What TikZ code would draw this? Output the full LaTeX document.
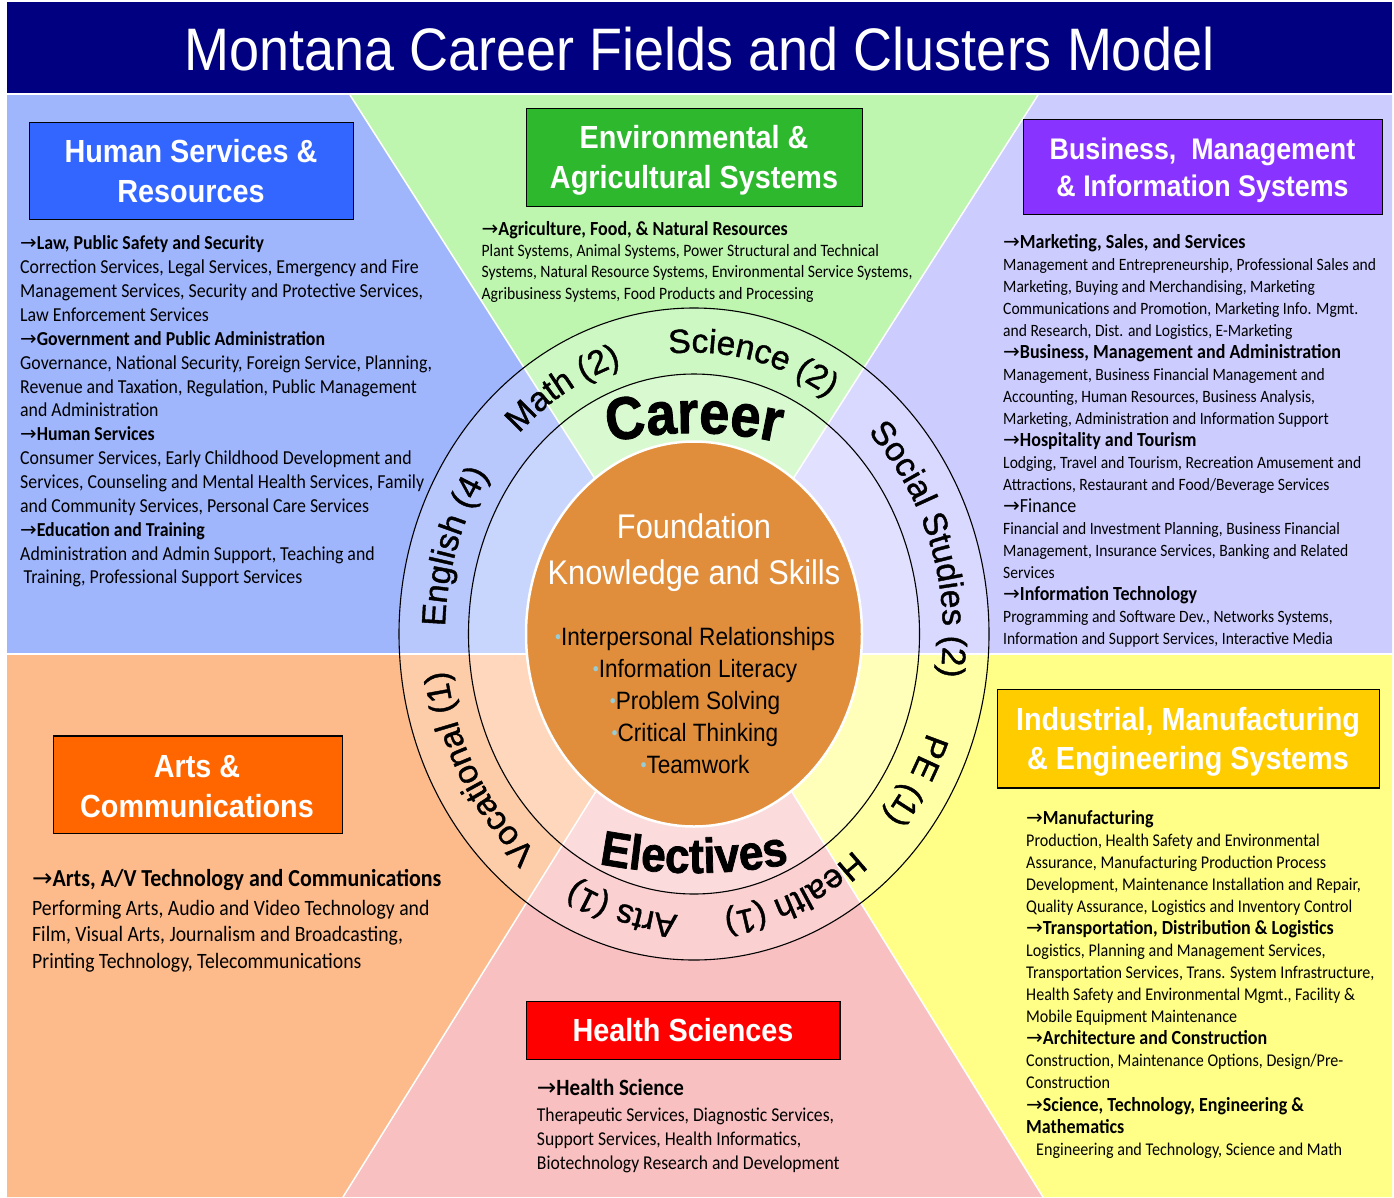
\documentclass[tikz,border=0pt]{standalone}
\usepackage{fontspec}
\setmainfont{Carlito}
\newfontfamily\bodyf{Carlito}[FakeStretch=0.9]
\newfontfamily\arialS{Liberation Sans}[FakeStretch=0.9]
\newfontfamily\arialN{Liberation Sans}[FakeBold=1.2]
\newfontfamily\heavyf{Liberation Sans}[FakeStretch=0.9,FakeBold=1.5]
\newfontfamily\arrowf{DejaVu Sans}
\usetikzlibrary{decorations.text}
\definecolor{navybar}{RGB}{0,0,128}
\definecolor{regBlue}{RGB}{160,182,252}
\definecolor{regGreen}{RGB}{190,245,175}
\definecolor{regLav}{RGB}{204,204,255}
\definecolor{regOrange}{RGB}{253,187,140}
\definecolor{regYellow}{RGB}{255,255,136}
\definecolor{regPink}{RGB}{248,192,192}
\definecolor{corefill}{RGB}{224,142,60}
\definecolor{bulc}{RGB}{150,205,215}
\definecolor{boxHS}{RGB}{51,102,255}
\definecolor{boxEnv}{RGB}{46,184,46}
\definecolor{boxBus}{RGB}{136,51,255}
\definecolor{boxInd}{RGB}{255,204,0}
\definecolor{boxArt}{RGB}{255,102,0}
\definecolor{boxHlth}{RGB}{255,0,0}
\newcommand\fs[2]{\fontsize{#1}{#2}\selectfont}
\newcommand\arr{{\arrowf\mdseries →}}
\newcommand\hd[2]{{\fs{#1}{10}\bfseries\arr #2}}
\newcommand\bulletdot{{\color{bulc}\raisebox{1.5pt}{\fs{19}{19}•}}}
\newcommand\ringf{\arialN\fs{33.5}{33.5}}
\newcommand\ringtext[2]{%
  \pgfmathsetmacro\ringsa{#1+40}\pgfmathsetmacro\ringea{#1-40}%
  \path[decorate,decoration={text along path,text={|\ringf|#2},text align=center}]
   (694,-634) ++({249*cos(\ringsa)},{281.5*sin(\ringsa)})
   arc[start angle=\ringsa,end angle=\ringea,x radius=249pt,y radius=281.5pt];}
\newcommand\regions[1]{%
 \fill[regBlue!#1!white] (7,-95) -- (350,-95) -- (694,-634) -- (694,-654) -- (7,-654) -- cycle;
 \fill[regGreen!#1!white] (350,-95) -- (1038,-95) -- (694,-634) -- cycle;
 \fill[regLav!#1!white] (1038,-95) -- (1392,-95) -- (1392,-654) -- (694,-654) -- (694,-634) -- cycle;
 \fill[regOrange!#1!white] (7,-654) -- (681.5,-654) -- (343,-1197) -- (7,-1197) -- cycle;
 \fill[regYellow!#1!white] (706.4,-654) -- (1392,-654) -- (1392,-1197) -- (1043,-1197) -- cycle;
 \fill[regPink!#1!white] (694,-634) -- (1043,-1197) -- (343,-1197) -- cycle;}
\begin{document}
\begin{tikzpicture}[x=1pt,y=1pt,
  clusterbox/.style={draw=black,line width=1.3pt,anchor=north west,inner sep=0pt},
  boxtitle/.style={anchor=north,inner sep=0pt,align=center,text=white},
  bodytext/.style={anchor=north west,inner sep=0pt,align=left,text=black},
  centertext/.style={anchor=base,inner sep=0pt}]
\useasboundingbox (0,0) rectangle (1394,-1197);
\fill[white] (0,0) rectangle (1394,-1197);
% title
\node[fill=navybar,anchor=north west,minimum width=1385pt,minimum height=90.7pt,inner sep=0pt] (titlebar) at (7,-2) {};
\node[anchor=base,text=white,font=\arialS\fs{60}{60},inner sep=0pt] (title) at (699.5,-70) {Montana Career Fields and Clusters Model};
% regions
\regions{100}
\begin{scope}
 \clip (694,-634) ellipse [x radius=295pt,y radius=326pt];
 \regions{75}
\end{scope}
\begin{scope}
 \clip (694,-634) ellipse [x radius=225.5pt,y radius=260pt];
 \regions{58}
\end{scope}
\draw[white,line width=1.5pt] (350,-95) -- (694,-634) -- (1038,-95);
\draw[white,line width=1.5pt] (343,-1197) -- (694,-634) -- (1043,-1197);
\draw[white,line width=1.5pt] (7,-654) -- (1392,-654);
\draw[black,line width=1.1pt] (694,-634) ellipse [x radius=295pt,y radius=326pt];
\draw[black,line width=1.1pt] (694,-634) ellipse [x radius=225.5pt,y radius=260pt];
\draw[white,line width=2.5pt,fill=corefill] (694,-634) ellipse [x radius=168pt,y radius=192.5pt];
% ring labels
\ringtext{119.7}{Math (2)}
\ringtext{77}{Science (2)}
\ringtext{19}{Social Studies (2)}
\ringtext{-31.6}{PE (1)}
\ringtext{-67.5}{Health (1)}
\ringtext{-105.5}{Arts (1)}
\ringtext{-150}{Vocational (1)}
\ringtext{161.3}{English (4)}
\path[decorate,decoration={text along path,text={|\heavyf\bfseries\fs{60}{60}|Career},text align=center}]
  (694,-820) ++(115:387pt) arc[start angle=115,end angle=65,radius=387pt];
\path[decorate,decoration={text along path,text={|\heavyf\bfseries\fs{49}{49}|Electives},text align=center}]
  (694,-373) ++(255:500pt) arc[start angle=255,end angle=285,radius=500pt];
% center
\node[centertext,text=white,font=\arialS\fs{34.2}{34}] (found1) at (694,-538) {Foundation};
\node[centertext,text=white,font=\arialS\fs{34.2}{34}] (found2) at (694,-584) {Knowledge and Skills};
\node[centertext,font=\arialS\fs{25.1}{25}] (sk1) at (695,-645) {\bulletdot Interpersonal Relationships};
\node[centertext,font=\arialS\fs{25.1}{25}] (sk2) at (695,-677) {\bulletdot Information Literacy};
\node[centertext,font=\arialS\fs{25.1}{25}] (sk3) at (695,-709) {\bulletdot Problem Solving};
\node[centertext,font=\arialS\fs{25.1}{25}] (sk4) at (695,-741) {\bulletdot Critical Thinking};
\node[centertext,font=\arialS\fs{25.1}{25}] (sk5) at (695,-773) {\bulletdot Teamwork};
% cluster boxes
\node[clusterbox,fill=boxHS,minimum width=324pt,minimum height=97pt] (hsbox) at (29,-122) {};
\node[boxtitle,font=\arialS\bfseries\fs{32}{40}] (hstitle) at (191,-134.7) {\strut Human Services \&\\Resources};
\node[clusterbox,fill=boxEnv,minimum width=336pt,minimum height=98pt] (envbox) at (526,-108) {};
\node[boxtitle,font=\arialS\bfseries\fs{32}{40}] (envtitle) at (694,-120.3) {\strut Environmental \&\\Agricultural Systems};
\node[clusterbox,fill=boxBus,minimum width=359pt,minimum height=94.6pt] (busbox) at (1023,-119) {};
\node[boxtitle,font=\arialS\bfseries\fs{29.8}{37.2}] (bustitle) at (1202.5,-133) {\strut Business,~ Management\\\& Information Systems};
\node[clusterbox,fill=boxInd,minimum width=382pt,minimum height=98.4pt] (indbox) at (997,-689) {};
\node[boxtitle,font=\arialS\bfseries\fs{32}{39.4}] (indtitle) at (1188,-702.6) {\strut Industrial, Manufacturing\\\& Engineering Systems};
\node[clusterbox,fill=boxArt,minimum width=289.3pt,minimum height=97.5pt] (artbox) at (52.5,-735.4) {};
\node[boxtitle,font=\arialS\bfseries\fs{32}{39.3}] (arttitle) at (197,-750) {\strut Arts \&\\Communications};
\node[clusterbox,fill=boxHlth,minimum width=313.3pt,minimum height=58pt] (hlthbox) at (526,-1001) {};
\node[boxtitle,font=\arialS\bfseries\fs{32}{40}] (hlthtitle) at (683,-1013.7) {\strut Health Sciences};
% body texts
\node[bodytext,font=\bodyf\fs{19.8}{23.86}] (hstext) at (20,-233) {\strut\hd{19.8}{Law, Public Safety and Security}\\
Correction Services, Legal Services, Emergency and Fire\\
Management Services, Security and Protective Services,\\
Law Enforcement Services\\
\hd{19.8}{Government and Public Administration}\\
Governance, National Security, Foreign Service, Planning,\\
Revenue and Taxation, Regulation, Public Management\\
and Administration\\
\hd{19.8}{Human Services}\\
Consumer Services, Early Childhood Development and\\
Services, Counseling and Mental Health Services, Family\\
and Community Services, Personal Care Services\\
\hd{19.8}{Education and Training}\\
Administration and Admin Support, Teaching and\\
\hspace*{3.5pt}Training, Professional Support Services};
\node[bodytext,font=\bodyf\fs{17.4}{21.4}] (envtext) at (481.4,-220) {\strut\hd{20}{Agriculture, Food, \& Natural Resources}\\
Plant Systems, Animal Systems, Power Structural and Technical\\
Systems, Natural Resource Systems, Environmental Service Systems,\\
Agribusiness Systems, Food Products and Processing};
\node[bodytext,font=\bodyf\fs{17.3}{22}] (bustext) at (1003,-232.8) {\strut\hd{20}{Marketing, Sales, and Services}\\
Management and Entrepreneurship, Professional Sales and\\
Marketing, Buying and Merchandising, Marketing\\
Communications and Promotion, Marketing Info. Mgmt.\\
and Research, Dist. and Logistics, E-Marketing\\
\hd{20}{Business, Management and Administration}\\
Management, Business Financial Management and\\
Accounting, Human Resources, Business Analysis,\\
Marketing, Administration and Information Support\\
\hd{20}{Hospitality and Tourism}\\
Lodging, Travel and Tourism, Recreation Amusement and\\
Attractions, Restaurant and Food/Beverage Services\\
{\fs{20}{10}\arr Finance}\\
Financial and Investment Planning, Business Financial\\
Management, Insurance Services, Banking and Related\\
Services\\
\hd{20}{Information Technology}\\
Programming and Software Dev., Networks Systems,\\
Information and Support Services, Interactive Media};
\node[bodytext,font=\bodyf\fs{17.9}{22.03}] (indtext) at (1026,-809) {\strut\hd{20}{Manufacturing}\\
Production, Health Safety and Environmental\\
Assurance, Manufacturing Production Process\\
Development, Maintenance Installation and Repair,\\
Quality Assurance, Logistics and Inventory Control\\
\hd{20}{Transportation, Distribution \& Logistics}\\
Logistics, Planning and Management Services,\\
Transportation Services, Trans. System Infrastructure,\\
Health Safety and Environmental Mgmt., Facility \&\\
Mobile Equipment Maintenance\\
\hd{20}{Architecture and Construction}\\
Construction, Maintenance Options, Design/Pre-\\
Construction\\
\hd{20}{Science, Technology, Engineering \&}\\
{\fs{20}{10}\bfseries Mathematics}\\
\hspace*{10pt}Engineering and Technology, Science and Math};
\node[bodytext,font=\bodyf\fs{21.9}{26.8}] (arttext) at (32,-867.6) {\strut\hd{24.4}{Arts, A/V Technology and Communications}\\[1.8pt]
Performing Arts, Audio and Video Technology and\\
Film, Visual Arts, Journalism and Broadcasting,\\
Printing Technology, Telecommunications};
\node[bodytext,font=\bodyf\fs{19.6}{23.7}] (hlthtext) at (536.7,-1078.4) {\strut\hd{23.3}{Health Science}\\[3pt]
Therapeutic Services, Diagnostic Services,\\
Support Services, Health Informatics,\\
Biotechnology Research and Development};
\end{tikzpicture}
\end{document}
